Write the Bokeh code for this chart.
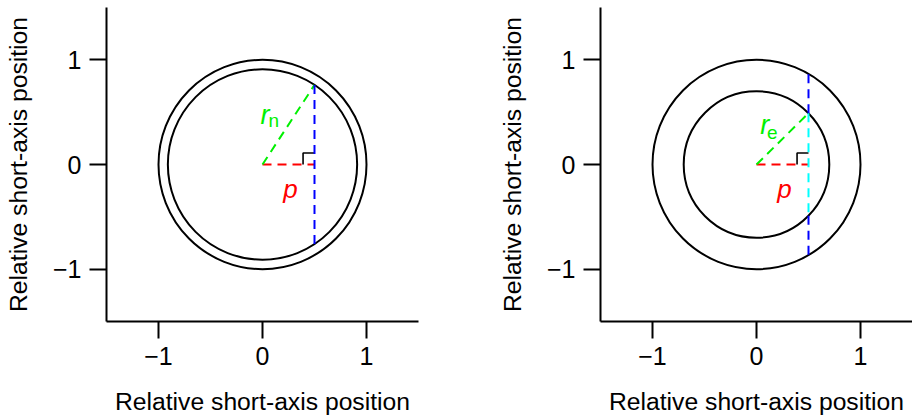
import math
from bokeh.plotting import figure
from bokeh.layouts import row
from bokeh.models import FixedTicker, Range1d
from bokeh.core.properties import value
from bokeh.embed import file_html
from bokeh.resources import INLINE

# ---- data ----
axis_ticks = [-1, 0, 1]
tick_labels = ["\u22121", "0", "1"]
axis_title = "Relative short-axis position"
outer_radius = [1.0, 1.0]
inner_radius = [0.91, 0.70]
p_offset = [0.5, 0.5]
radius_symbol = ["r", "r"]
radius_subscript = ["n", "e"]
marker_size = 0.11

FONT = "Liberation Sans"
GREEN = "#00f000"


def make_panel(i, width, border_right):
    fig = figure(width=width, height=420, output_backend="svg", toolbar_location=None,
                 x_range=Range1d(-1.5, 1.5), y_range=Range1d(-1.5, 1.5),
                 min_border_left=106, min_border_right=border_right,
                 min_border_top=7, min_border_bottom=99)
    fig.outline_line_color = None
    fig.grid.visible = False
    for ax in (fig.xaxis[0], fig.yaxis[0]):
        ax.ticker = FixedTicker(ticks=axis_ticks)
        ax.major_label_overrides = {t: l for t, l in zip(axis_ticks, tick_labels)}
        ax.axis_line_color = "black"
        ax.axis_line_width = 2
        ax.major_tick_line_color = "black"
        ax.major_tick_line_width = 2
        ax.major_tick_out = 17
        ax.major_tick_in = 0
        ax.minor_tick_line_color = None
        ax.major_label_text_font = FONT
        ax.major_label_text_font_size = "25px"
        ax.major_label_text_color = "black"
        ax.major_label_standoff = 8
        ax.axis_label = axis_title
        ax.axis_label_text_font = FONT
        ax.axis_label_text_font_size = "24.7px"
        ax.axis_label_text_font_style = "normal"
        ax.axis_label_text_color = "black"
    fig.xaxis[0].axis_label_standoff = 20
    fig.yaxis[0].axis_label_standoff = 18
    fig.yaxis[0].major_label_orientation = "horizontal"

    ro, ri, pp = outer_radius[i], inner_radius[i], p_offset[i]
    fig.ellipse(x=[0, 0], y=[0, 0], width=[2 * ro, 2 * ri], height=[2 * ro, 2 * ri],
                fill_color=None, line_color="black", line_width=2)

    # right-angle marker
    fig.line(x=[pp - marker_size, pp - marker_size, pp], y=[0, marker_size, marker_size],
             line_color="black", line_width=1.6)

    yi = math.sqrt(ri ** 2 - pp ** 2)
    yo = math.sqrt(ro ** 2 - pp ** 2)
    dash = "9 6"
    # p (red)
    fig.line(x=[0, pp], y=[0, 0], line_color="#ff0000", line_width=2, line_dash=dash)
    # radius (green)
    fig.line(x=[0, pp], y=[0, yi], line_color=GREEN, line_width=2, line_dash=dash)
    if i == 0:
        fig.line(x=[pp, pp], y=[-yi, yi], line_color="#0000ff", line_width=2, line_dash=dash)
    else:
        fig.line(x=[pp, pp], y=[yi, yo], line_color="#0000ff", line_width=2, line_dash=dash)
        fig.line(x=[pp, pp], y=[-yi, -yo], line_color="#0000ff", line_width=2, line_dash=dash)
        fig.line(x=[pp, pp], y=[yi, -yi], line_color="#00ffff", line_width=2, line_dash=dash)

    # labels
    if i == 0:
        rx, ry, sx, sy = -0.02, 0.475, 0.058, 0.424
    else:
        rx, ry, sx, sy = 0.036, 0.38, 0.10, 0.306
    fig.text(x=[rx], y=[ry], text=[radius_symbol[i]], text_color=GREEN,
             text_font=value(FONT), text_font_size="27px", text_font_style="italic",
             text_align="left", text_baseline="alphabetic")
    fig.text(x=[sx], y=[sy], text=[radius_subscript[i]], text_color=GREEN,
             text_font=value(FONT), text_font_size="19px",
             text_align="left", text_baseline="alphabetic")
    fig.text(x=[0.2], y=[-0.232], text=["p"], text_color="#ff0000",
             text_font=value(FONT), text_font_size="26px", text_font_style="italic",
             text_align="left", text_baseline="alphabetic")
    return fig


p1 = make_panel(0, 494, 76)
p2 = make_panel(1, 418, 0)
p = row(p1, p2)

open("out.html", "w").write(file_html(p, INLINE))
